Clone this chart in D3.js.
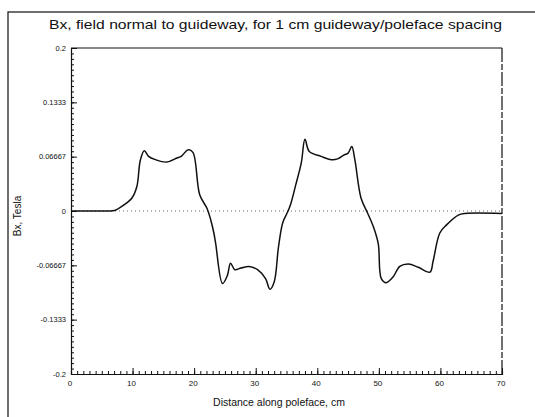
<!DOCTYPE html>
<html>
<head>
<meta charset="utf-8">
<script src="https://cdn.jsdelivr.net/npm/d3@7"></script>
<style>
  html, body { margin: 0; padding: 0; background: #fff; }
  svg { display: block; }
</style>
</head>
<body>
<svg id="chart" width="535" height="417"></svg>
<script>
// ─── Data ────────────────────────────────────────────────────────────────────

const distance = [
  0, 2, 4, 6, 7.2, 8.5, 9.9, 10.7, 11.25, 11.9, 12.6, 13.7, 15.5, 17.2, 17.9,
  19.0, 19.8, 20.9, 22.1, 22.7, 23.2, 23.5, 24.6, 25.4, 25.9, 26.6, 27.6, 28.9,
  30.3, 31.6, 32.3, 33.0, 33.7, 34.4, 35.2, 35.7, 36.5, 37.4, 38.0, 38.7, 40.6,
  42.3, 43.3, 44.4, 45.0, 45.6, 46.1, 47.1, 48.2, 49.1, 49.9, 50.4, 51.2, 52.3,
  53.4, 54.8, 56.4, 58.3, 58.8, 59.9, 61.0, 62.9, 64, 70
];
const bx = [
  0, 0, 0, 0, 0.001, 0.007, 0.016, 0.030, 0.062, 0.074, 0.067, 0.063, 0.060, 0.065, 0.067,
  0.075, 0.072, 0.020, 0.003, -0.011, -0.027, -0.040, -0.089, -0.079, -0.064, -0.072, -0.070, -0.068,
  -0.072, -0.083, -0.096, -0.087, -0.044, -0.014, -0.001, 0.009, 0.032, 0.059, 0.088, 0.073, 0.067,
  0.063, 0.064, 0.069, 0.071, 0.079, 0.063, 0.016, -0.003, -0.019, -0.040, -0.083, -0.088, -0.081,
  -0.068, -0.065, -0.069, -0.075, -0.062, -0.027, -0.017, -0.005, -0.003, -0.003
];

const xTickValues = [0, 10, 20, 30, 40, 50, 60, 70];
const yTickValues = [0.2, 0.1333, 0.06667, 0, -0.06667, -0.1333, -0.2];
const yTickLabels = ['0.2', '0.1333', '0.06667', '0', '-0.06667', '-0.1333', '-0.2'];

const title  = 'Bx, field normal to guideway, for 1 cm guideway/poleface spacing';
const xTitle = 'Distance along poleface, cm';
const yTitle = 'Bx, Tesla';

// ─── Layout ──────────────────────────────────────────────────────────────────

const FONT = '"Liberation Sans", Arial, sans-serif';
const INK  = '#111';
const box  = { left: 71, right: 502, top: 48, bottom: 374 };

const svg = d3.select('#chart');

const x = d3.scaleLinear().domain([0, 70]).range([box.left, box.right]);
const y = d3.scaleLinear().domain([-0.2, 0.2]).range([box.bottom, box.top]);

// Outer page frame (only left and top edges show in the scan)
svg.append('rect')
  .attr('x', 8).attr('y', 12)
  .attr('width', 560).attr('height', 440)
  .attr('fill', 'none')
  .attr('stroke', '#222')
  .attr('stroke-width', 1.3);

// ─── Title ───────────────────────────────────────────────────────────────────

svg.append('text')
  .attr('x', 49).attr('y', 29)
  .attr('textLength', 453)
  .attr('lengthAdjust', 'spacingAndGlyphs')
  .attr('fill', INK)
  .style('font-family', FONT)
  .style('font-size', '13.5px')
  .text(title);

// ─── Plot frame ──────────────────────────────────────────────────────────────

const frame = svg.append('g');
frame.append('line')
  .attr('x1', box.left).attr('x2', box.right)
  .attr('y1', box.top).attr('y2', box.top)
  .attr('stroke', INK).attr('stroke-width', 1.2);
frame.append('line')
  .attr('x1', box.right).attr('x2', box.right)
  .attr('y1', box.top).attr('y2', box.bottom)
  .attr('stroke', INK).attr('stroke-width', 1.2)
  .attr('stroke-dasharray', '14 2 6 2');

// Zero reference, dotted
svg.append('line')
  .attr('x1', x(0)).attr('x2', x(70))
  .attr('y1', y(0)).attr('y2', y(0))
  .attr('stroke', '#444')
  .attr('stroke-width', 0.8)
  .attr('stroke-dasharray', '1 3');

// ─── Y axis (minor ticks inward) ─────────────────────────────────────────────

const yMinor = d3.range(-30, 31).map(i => i * 0.2 / 30);
const gy = svg.append('g').attr('transform', `translate(${box.left},0)`);
gy.call(d3.axisRight(y).tickValues(yMinor).tickSize(3).tickFormat(''))
  .call(sel => {
    sel.select('.domain').attr('stroke', INK).attr('stroke-width', 1.2);
    sel.selectAll('line').attr('stroke', INK);
  });
gy.append('g')
  .call(d3.axisRight(y).tickValues(yTickValues).tickSize(6).tickFormat(''))
  .call(sel => {
    sel.select('.domain').remove();
    sel.selectAll('line').attr('stroke', INK);
  });

svg.append('g').selectAll('text')
  .data(yTickValues)
  .join('text')
  .attr('x', box.left - 5)
  .attr('y', d => y(d))
  .attr('dy', '0.35em')
  .attr('text-anchor', 'end')
  .attr('fill', INK)
  .style('font-family', FONT)
  .style('font-size', '7.5px')
  .text((d, i) => yTickLabels[i]);

// ─── X axis (minor ticks pointing up) ────────────────────────────────────────

const xMinor = d3.range(0, 71);
const gx = svg.append('g').attr('transform', `translate(0,${box.bottom})`);
gx.call(d3.axisTop(x).tickValues(xMinor).tickSize(3).tickFormat(''))
  .call(sel => {
    sel.select('.domain').attr('stroke', INK).attr('stroke-width', 1.2);
    sel.selectAll('line').attr('stroke', INK);
  });
gx.append('g')
  .call(d3.axisTop(x).tickValues(xTickValues).tickSize(6).tickFormat(''))
  .call(sel => {
    sel.select('.domain').remove();
    sel.selectAll('line').attr('stroke', INK);
  });

svg.append('g').selectAll('text')
  .data(xTickValues)
  .join('text')
  .attr('x', d => x(d) - 1)
  .attr('y', box.bottom + 12)
  .attr('text-anchor', 'middle')
  .attr('fill', INK)
  .style('font-family', FONT)
  .style('font-size', '8px')
  .text(d => d);

// ─── Axis titles ─────────────────────────────────────────────────────────────

svg.append('text')
  .attr('x', 279).attr('y', 406)
  .attr('text-anchor', 'middle')
  .attr('fill', INK)
  .style('font-family', FONT)
  .style('font-size', '10.5px')
  .text(xTitle);

svg.append('text')
  .attr('transform', 'translate(21,216) rotate(-90)')
  .attr('text-anchor', 'middle')
  .attr('fill', INK)
  .style('font-family', FONT)
  .style('font-size', '10px')
  .text(yTitle);

// ─── Curve ───────────────────────────────────────────────────────────────────

const points = distance.map((d, i) => [d, bx[i]]);
const line = d3.line()
  .curve(d3.curveCatmullRom.alpha(0.5))
  .x(d => x(d[0]))
  .y(d => y(d[1]));

svg.append('path')
  .datum(points)
  .attr('d', line)
  .attr('fill', 'none')
  .attr('stroke', INK)
  .attr('stroke-width', 1.5)
  .attr('stroke-linejoin', 'round');
</script>
</body>
</html>
